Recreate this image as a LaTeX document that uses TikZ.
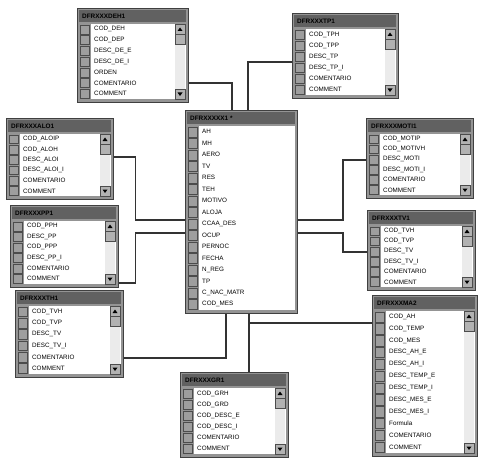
\documentclass[tikz,border=0pt]{standalone}
\usepackage{fontspec}
\setmainfont{Liberation Sans}
\usetikzlibrary{positioning,calc}

\tikzset{
  tabframe/.style={draw=black!75, fill=black!42, line width=0.7pt, inner sep=0pt},
  tabbar/.style={fill=black!62},
  tabtitle/.style={font=\fontsize{6.4}{7}\selectfont\bfseries, text=black, inner sep=0pt},
  fieldtxt/.style={font=\fontsize{6.3}{7}\selectfont, inner sep=0pt, anchor=west},
  keybox/.style={draw=black!70, fill=black!38, line width=0.3pt},
  scrollbox/.style={draw=black!70, fill=black!30, line width=0.3pt},
  rel/.style={draw=black!80, line width=1.4pt}
}

% [scroll bar 1/0] name, x, y, width, height, title, fields
\newcommand{\dbtable}[8][1]{%
  \foreach \f [count=\k] in {#8} {\xdef\nrows{\k}}
  \pgfmathsetmacro{\rowh}{(#6-19)/\nrows}
  \node[tabframe, minimum width=#5pt, minimum height=#6pt, anchor=north west] (#2) at (#3,#4) {};
  \fill[tabbar] ({#3+2},{#4+2}) rectangle ({#3+#5-2},{#4+14});
  \node[tabtitle, anchor=west] (#2-title) at ({#3+5},{#4+8.5}) {#7};
  \fill[white] ({#3+14},{#4+16}) rectangle ({#3+#5-2},{#4+#6-3});
  \ifnum#1=1
    \fill[black!8] ({#3+#5-13},{#4+16}) rectangle ({#3+#5-3},{#4+#6-3});
    \draw[scrollbox] ({#3+#5-13},{#4+16}) rectangle ({#3+#5-3},{#4+26});
    \fill[black] ({#3+#5-10.5},{#4+23}) -- ({#3+#5-5.5},{#4+23}) -- ({#3+#5-8},{#4+19.5}) -- cycle;
    \draw[scrollbox] ({#3+#5-13},{#4+26}) rectangle ({#3+#5-3},{#4+36});
    \draw[scrollbox] ({#3+#5-13},{#4+#6-13}) rectangle ({#3+#5-3},{#4+#6-3});
    \fill[black] ({#3+#5-10.5},{#4+#6-9.5}) -- ({#3+#5-5.5},{#4+#6-9.5}) -- ({#3+#5-8},{#4+#6-6}) -- cycle;
  \fi
  \foreach \f [count=\k] in {#8} {
    \draw[keybox] ({#3+3},{#4+16+(\k-1)*\rowh+0.8}) rectangle ({#3+12},{#4+16+\k*\rowh-0.8});
    \node[fieldtxt] (#2-\k) at ({#3+17},{#4+16+(\k-0.5)*\rowh}) {\f};
  }
}

\begin{document}
\begin{tikzpicture}[x=1pt,y=-1pt]
  \useasboundingbox[fill=white] (0,0) rectangle (478,457);

  % tables
  \dbtable{deh}{77}{8}{111}{94}{DFRXXXDEH1}{COD\_DEH, COD\_DEP, DESC\_DE\_E, DESC\_DE\_I, ORDEN, COMENTARIO, COMMENT}
  \dbtable{tp}{292}{13}{106}{85}{DFRXXXTP1}{COD\_TPH, COD\_TPP, DESC\_TP, DESC\_TP\_I, COMENTARIO, COMMENT}
  \dbtable{alo}{6}{118}{107}{81}{DFRXXXALO1}{COD\_ALOIP, COD\_ALOH, DESC\_ALOI, DESC\_ALOI\_I, COMENTARIO, COMMENT}
  \dbtable[0]{ctr}{185}{110}{112}{203}{DFRXXXXX1 *}{AH, MH, AERO, TV, RES, TEH, MOTIVO, ALOJA, CCAA\_DES, OCUP, PERNOC, FECHA, N\_REG, TP, C\_NAC\_MATR, COD\_MES}
  \dbtable{mot}{366}{118}{107}{80}{DFRXXXMOTI1}{COD\_MOTIP, COD\_MOTIVH, DESC\_MOTI, DESC\_MOTI\_I, COMENTARIO, COMMENT}
  \dbtable{pp}{10}{205}{108}{82}{DFRXXXPP1}{COD\_PPH, DESC\_PP, COD\_PPP, DESC\_PP\_I, COMENTARIO, COMMENT}
  \dbtable{tv}{367}{210}{108}{80}{DFRXXXTV1}{COD\_TVH, COD\_TVP, DESC\_TV, DESC\_TV\_I, COMENTARIO, COMMENT}
  \dbtable{th}{15}{290}{108}{87}{DFRXXXTH1}{COD\_TVH, COD\_TVP, DESC\_TV, DESC\_TV\_I, COMENTARIO, COMMENT}
  \dbtable{ma}{372}{295}{105}{161}{DFRXXXMA2}{COD\_AH, COD\_TEMP, COD\_MES, DESC\_AH\_E, DESC\_AH\_I, DESC\_TEMP\_E, DESC\_TEMP\_I, DESC\_MES\_E, DESC\_MES\_I, Formula, COMENTARIO, COMMENT}
  \dbtable{gr}{180}{372}{108}{85}{DFRXXXGR1}{COD\_GRH, COD\_GRD, COD\_DESC\_E, COD\_DESC\_I, COMENTARIO, COMMENT}

  % relationships
  \draw[rel] ([yshift=-75pt]deh.north east) -| ([xshift=47pt]ctr.north west);
  \draw[rel] ([yshift=-49pt]tp.north west) -| ([xshift=63pt]ctr.north west);
  \draw[rel] ([yshift=-39pt]alo.north east) -- ++(22,0) |- ([yshift=-110pt]ctr.north west);
  \draw[rel] ([yshift=-78pt]pp.north east) -- ++(17,0) |- ([yshift=-123pt]ctr.north west);
  \draw[rel] ([yshift=-42pt]mot.north west) -- ++(-23,0) |- ([yshift=-110pt]ctr.north east);
  \draw[rel] ([yshift=-42pt]tv.north west) -- ++(-24,0) |- ([yshift=-123pt]ctr.north east);
  \draw[rel] ([yshift=-68pt]th.north east) -| ([xshift=41pt]ctr.south west);
  \draw[rel] ([xshift=64pt]ctr.south west) -- ([xshift=69pt]gr.north west);
  \draw[rel] ([yshift=-28pt]ma.north west) -| ([xshift=64pt]ctr.south west);
\end{tikzpicture}
\end{document}
